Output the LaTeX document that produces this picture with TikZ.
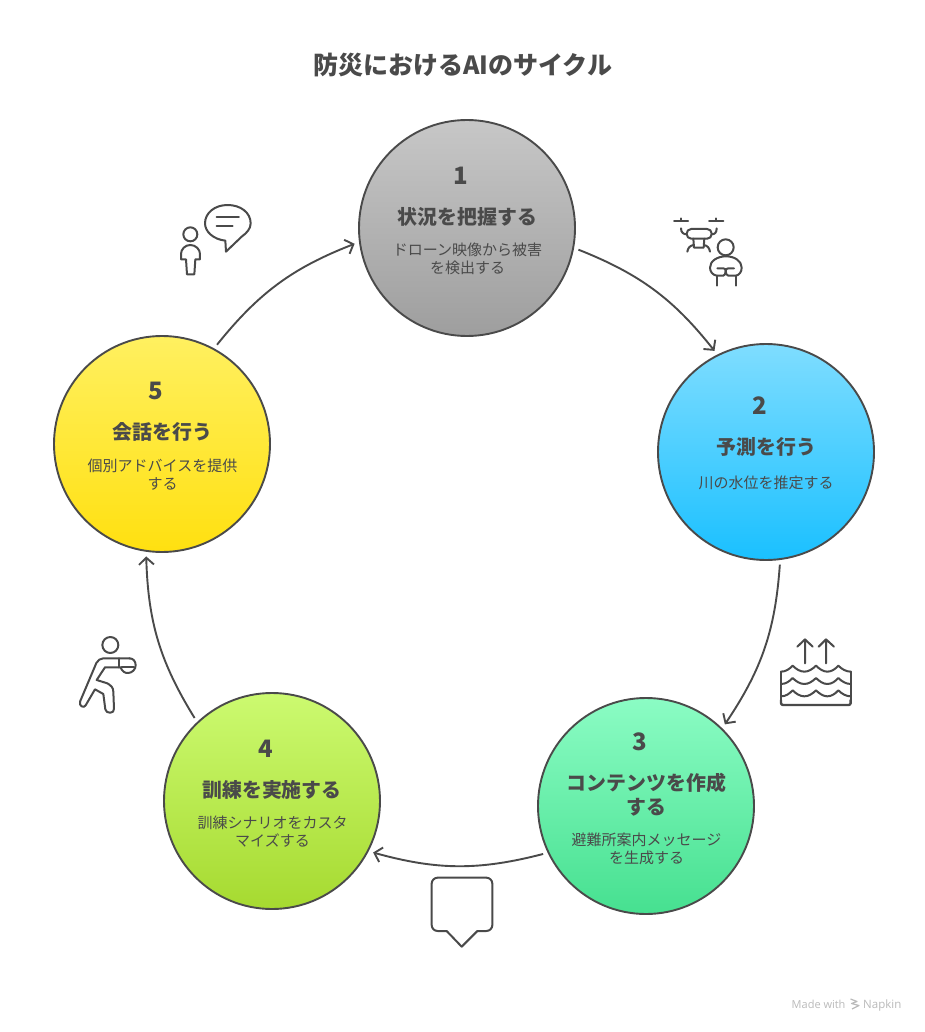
\documentclass[tikz,border=0pt]{standalone}
\usepackage{fontspec}
\setmainfont{Noto Sans CJK JP}
\newfontfamily\latinmark{Open Sans}
\usetikzlibrary{arrows.meta}
\definecolor{ink}{HTML}{4A4A4A}
\tikzset{
  stage/.style={circle,draw=ink,line width=1.9pt,minimum size=216pt,inner sep=0pt,outer sep=5.5pt},
  numlabel/.style={text=ink,font=\fontsize{24}{28}\selectfont\bfseries,anchor=center,inner sep=0pt},
  headlabel/.style={text=ink,font=\fontsize{19.9}{23.5}\selectfont\bfseries,anchor=center,inner sep=0pt,align=center},
  desclabel/.style={text=ink,font=\fontsize{15}{17.5}\selectfont,anchor=center,inner sep=0pt,align=center},
  flow/.style={draw=ink,line width=1.9pt,-{Straight Barb[length=7pt,width=15pt,line width=1.9pt]}},
  icon/.style={draw=ink,line width=2pt,line cap=round,line join=round,fill=none},
  iconzone/.style={x=0.3333pt,y=-0.3333pt}
}
\begin{document}
\begin{tikzpicture}[x=1pt,y=-1pt]
\path[fill=white,use as bounding box] (0,0) rectangle (924,1032);
\node[text=ink,font=\fontsize{25}{28}\selectfont\bfseries,inner sep=0pt] (title) at (462.5,65.5) {防災におけるAIのサイクル};

\node[stage,top color=black!22,bottom color=black!38] (c1) at (467,228) {};
\node[stage,top color={rgb,255:red,127;green,221;blue,255},bottom color={rgb,255:red,26;green,192;blue,255}] (c2) at (766,452) {};
\node[stage,top color={rgb,255:red,139;green,252;blue,196},bottom color={rgb,255:red,70;green,224;blue,144}] (c3) at (646,806) {};
\node[stage,top color={rgb,255:red,204;green,250;blue,112},bottom color={rgb,255:red,166;green,218;blue,48}] (c4) at (272,801) {};
\node[stage,top color={rgb,255:red,255;green,240;blue,96},bottom color={rgb,255:red,255;green,224;blue,16}] (c5) at (162,444) {};

\node[numlabel] (n1) at (460.5,176) {1};
\node[headlabel] (h1) at (467.5,217) {状況を把握する};
\node[desclabel] (d1) at (467.5,259) {ドローン映像から被害\\を検出する};

\node[numlabel] (n2) at (760,406) {2};
\node[headlabel] (h2) at (766.5,447) {予測を行う};
\node[desclabel] (d2) at (766,482.5) {川の水位を推定する};

\node[numlabel] (n3) at (640,742) {3};
\node[headlabel] (h3) at (646.5,794.5) {コンテンツを作成\\する};
\node[desclabel] (d3) at (646.5,849) {避難所案内メッセージ\\を生成する};

\node[numlabel] (n4) at (266,749) {4};
\node[headlabel] (h4) at (272,790) {訓練を実施する};
\node[desclabel] (d4) at (272.5,831.5) {訓練シナリオをカスタ\\マイズする};

\node[numlabel] (n5) at (156,391) {5};
\node[headlabel] (h5) at (162.5,432) {会話を行う};
\node[desclabel] (d5) at (162.5,474.5) {個別アドバイスを提供\\する};

\draw[flow] (c1.-11) to[bend left=15] (c2.117);
\draw[flow] (c2.-83) to[bend left=15] (c3.46.5);
\draw[flow] (c3.-155) to[bend left=15] (c4.-27);
\draw[flow] (c4.133) to[bend left=15] (c5.-98.5);
\draw[flow] (c5.61) to[bend left=15] (c1.188.6);

% person with speech bubble
\begin{scope}[shift={(160,190)},iconzone]
\draw[icon] (91,133) circle (21);
\draw[icon] (91,165) .. controls (75,165) and (63,178) .. (63,192) -- (63,208) -- (78,208) -- (81,253) -- (103,253) -- (106,208) -- (120,208) -- (120,192) .. controls (120,178) and (107,165) .. (91,165);
\draw[icon] (196,152) .. controls (160,148) and (135,125) .. (135,100) .. controls (135,68) and (165,45) .. (203,45) .. controls (242,45) and (272,68) .. (272,100) .. controls (272,115) and (262,128) .. (245,140) -- (198,185) -- cycle;
\draw[icon] (170,82) -- (237,82);
\draw[icon] (170,108) -- (218,108);
\end{scope}

% drone and pilot
\begin{scope}[shift={(660,205)},iconzone]
\draw[icon] (42,48) -- (84,48) (63,40) -- (63,48);
\draw[icon] (147,48) -- (190,48) (168,40) -- (168,48);
\draw[icon] (63,70) .. controls (63,82) and (70,88) .. (80,88);
\draw[icon] (170,70) .. controls (170,82) and (165,88) .. (155,88);
\draw[icon,rounded corners=4.5pt] (80,72) rectangle (155,101);
\draw[icon] (100,101) -- (102,128) -- (131,128) -- (133,101);
\draw[icon] (82,140) .. controls (84,128) and (90,122) .. (101,120);
\draw[icon] (150,140) .. controls (148,128) and (142,122) .. (132,120);
\draw[icon] (197,127) circle (24);
\draw[icon] (170,212) .. controls (158,210) and (150,200) .. (150,188) .. controls (150,168) and (172,154) .. (198,154) .. controls (224,154) and (245,168) .. (245,188) .. controls (245,200) and (238,210) .. (228,212) -- (205,212) .. controls (200,212) and (197,205) .. (197,198) .. controls (197,205) and (194,212) .. (190,212) -- cycle;
\draw[icon] (172,190) -- (190,190) .. controls (194,190) and (197,193) .. (197,198) .. controls (197,193) and (200,190) .. (205,190) -- (222,190);
\draw[icon] (170,212) -- (170,242);
\draw[icon] (228,212) -- (228,242);
\end{scope}

% rising water
\begin{scope}[shift={(770,630)},iconzone]
\draw[icon] (105,100) -- (105,28) (82,50) -- (105,28) -- (128,50);
\draw[icon] (168,100) -- (168,28) (146,50) -- (168,28) -- (192,50);
\draw[icon] (33,125) -- (33,218);
\draw[icon] (242,125) -- (242,218);
\draw[icon,line width=2.4pt,rounded corners=2pt] (33,210) -- (33,225) -- (242,225) -- (242,210);
\foreach \wy in {0,37,74}{
  \draw[icon] (33,125+\wy) .. controls (48,125+\wy) and (58,117+\wy) .. (68,107+\wy) .. controls (78,117+\wy) and (90,125+\wy) .. (103,125+\wy) .. controls (116,125+\wy) and (128,117+\wy) .. (138,107+\wy) .. controls (148,117+\wy) and (160,125+\wy) .. (172,125+\wy) .. controls (185,125+\wy) and (196,117+\wy) .. (205,107+\wy) .. controls (215,117+\wy) and (228,125+\wy) .. (242,125+\wy);
}
\end{scope}

% speech tag
\begin{scope}[shift={(420,865)},iconzone]
\draw[icon,rounded corners=6pt] (80,198) -- (35,198) -- (35,38) -- (217,38) -- (217,198) -- (172,198);
\draw[icon] (80,198) -- (125,245) -- (172,198);
\end{scope}

% exercising person
\begin{scope}[shift={(70,630)},iconzone]
\draw[icon] (121,45) circle (24);
\draw[icon,rounded corners=5pt] (180,85) -- (85,85) -- (30,215);
\draw[icon] (30,215) .. controls (26,228) and (42,236) .. (47,226) -- (75,178) -- (100,192) -- (106,238) .. controls (108,252) and (134,252) .. (132,236) -- (130,185) .. controls (130,172) and (122,166) .. (112,160) -- (80,150) -- (105,112) -- (147,112);
\draw[icon] (147,85) -- (147,112);
\draw[icon] (147,112) -- (152,112) .. controls (156,124) and (165,130) .. (175,129) .. controls (187,128) and (197,118) .. (197,106) .. controls (197,94) and (190,85) .. (178,85);
\draw[icon] (155,112) -- (192,112);
\end{scope}

% credit
\node[text=black!27,font=\latinmark\fontsize{11}{13}\selectfont,anchor=base west,inner sep=0pt] (madewith) at (791.5,1008) {Made with};
\node[text=black!27,font=\latinmark\fontsize{11.5}{13}\selectfont,anchor=base west,inner sep=0pt] (napkin) at (863,1008) {Napkin};
\begin{scope}[shift={(850,998)}]
\draw[draw=black!27,line width=1.2pt,line join=round] (0.5,1) -- (7,3.5) -- (1.5,5.5) -- (9,7.5) -- (2,11);
\end{scope}
\end{tikzpicture}
\end{document}
